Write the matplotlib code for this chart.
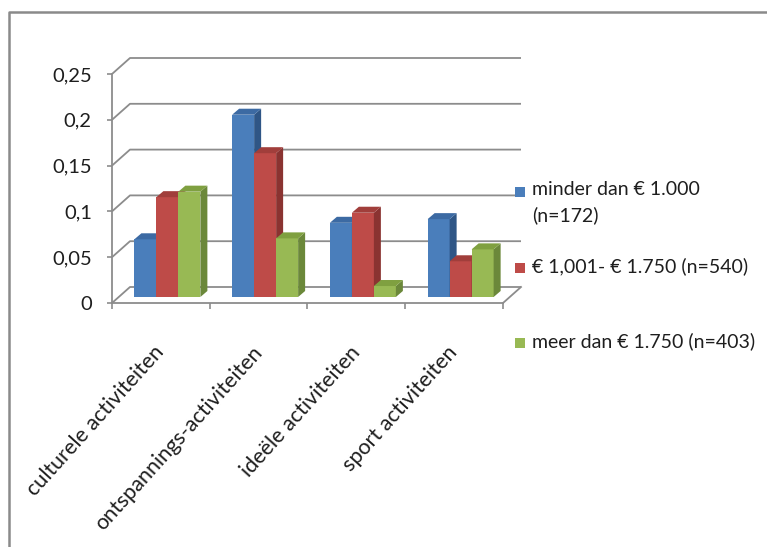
import matplotlib
matplotlib.use("Agg")
import matplotlib.pyplot as plt
from matplotlib.patches import Polygon, Rectangle

plt.rcParams['font.family'] = ['Lato', 'DejaVu Sans']

# ---- data -------------------------------------------------------------
categories = ["culturele activiteiten", "ontspannings-activiteiten",
              "ideële activiteiten", "sport activiteiten"]
series_labels = ["minder dan € 1.000\n(n=172)",
                 "€ 1,001- € 1.750 (n=540)",
                 "meer dan € 1.750 (n=403)"]
low_income = [0.063, 0.199, 0.081, 0.085]
mid_income = [0.109, 0.157, 0.092, 0.039]
high_income = [0.115, 0.064, 0.012, 0.052]
y_ticks = [0, 0.05, 0.1, 0.15, 0.2, 0.25]
y_tick_labels = ["0", "0,05", "0,1", "0,15", "0,2", "0,25"]

series = [low_income, mid_income, high_income]
front_colors = ["#4a7ebb", "#be4b48", "#98b954"]
side_colors = ["#2f5686", "#8a3331", "#6b883a"]
top_colors = ["#3c6aa3", "#a13e3b", "#7fa040"]
grid_color = "#8c8c8c"
text_color = "#1e1e1e"

# ---- figure / axes ----------------------------------------------------
W, H = 767, 547
fig = plt.figure(figsize=(W / 100, H / 100), dpi=100)
ax = fig.add_axes([112 / W, (H - 303) / H, (503 - 112) / W, (303 - 74) / H])
ax.set_xlim(0, len(categories))
ax.set_ylim(0, 0.25)

# pixel -> data conversion for the pseudo-3D depth offsets
px_x = (503 - 112) / len(categories)
px_y = (303 - 74) / 0.25
def dx(p):
    return p / px_x
def dy(p):
    return p / px_y

back_x, back_y = dx(18), dy(16)      # back wall offset
plane_x, plane_y = dx(6.5), dy(6)    # bar front plane offset
depth_x, depth_y = dx(7), dy(6)      # bar depth

# back wall gridlines with side-wall diagonals
n = len(categories)
for v in y_ticks:
    ax.plot([0, back_x, n + back_x], [v, v + back_y, v + back_y],
            color=grid_color, lw=1.3, clip_on=False, zorder=1,
            solid_capstyle='butt')
ax.plot([n, n + back_x], [0, back_y], color=grid_color, lw=1.3,
        clip_on=False, zorder=1)

# bars with side and top faces
bar_w = 22 / px_x
group_w = bar_w * len(series)
for s, vals in enumerate(series):
    xs = [i + 0.5 - group_w / 2 + s * bar_w + plane_x for i in range(n)]
    bars = ax.bar(xs, vals, width=bar_w, bottom=plane_y, align='edge',
                  color=front_colors[s], linewidth=0)
    for i, rect in enumerate(bars):
        z = 3 + i * 10 + s * 3
        rect.set_zorder(z)
        x0 = rect.get_x()
        x1 = x0 + rect.get_width()
        b = rect.get_y()
        t = b + rect.get_height()
        side = Polygon([(x1, b), (x1 + depth_x, b + depth_y),
                        (x1 + depth_x, t + depth_y), (x1, t)],
                       closed=True, facecolor=side_colors[s], lw=0,
                       zorder=z + 1)
        top = Polygon([(x0, t), (x1, t), (x1 + depth_x, t + depth_y),
                       (x0 + depth_x, t + depth_y)],
                      closed=True, facecolor=top_colors[s], lw=0,
                      zorder=z + 2)
        ax.add_patch(side)
        ax.add_patch(top)

# axes styling
for side in ("top", "right"):
    ax.spines[side].set_visible(False)
for side in ("left", "bottom"):
    ax.spines[side].set_color(grid_color)
    ax.spines[side].set_linewidth(1.3)
ax.set_facecolor("none")
ax.set_yticks(y_ticks)
ax.set_yticklabels(y_tick_labels, fontsize=14.5, color=text_color)
ax.set_xticks(range(n + 1))
ax.set_xticklabels([])
ax.tick_params(axis='y', length=3.5, width=1.2, color=grid_color, pad=11)
ax.tick_params(axis='x', length=4, width=1.2, color=grid_color)

# rotated category labels
for i, cat in enumerate(categories):
    ax.text(i + 0.5, -dy(46), cat, rotation=48, rotation_mode='anchor',
            ha='right', va='center', fontsize=15.5, color=text_color,
            clip_on=False)

# legend
def fx(p):
    return p / W
def fy(p):
    return 1 - p / H
legend_rows = [192, 268, 343]
for s, label in enumerate(series_labels):
    yc = legend_rows[s]
    fig.patches.append(Rectangle((fx(515), fy(yc + 5)), 10 / W, 10 / H,
                                 transform=fig.transFigure,
                                 facecolor=front_colors[s], lw=0))
    fig.text(fx(532), fy(yc - 11), label, ha='left', va='top',
             fontsize=14, color=text_color, linespacing=1.55)

# outer frame (left and top edges)
fig.add_artist(plt.Line2D([fx(9), fx(9), 1.0], [0.0, fy(12), fy(12)],
                          transform=fig.transFigure, color="#8a8a8a",
                          lw=1.8))

fig.savefig("out.png", dpi=100, facecolor="white")
